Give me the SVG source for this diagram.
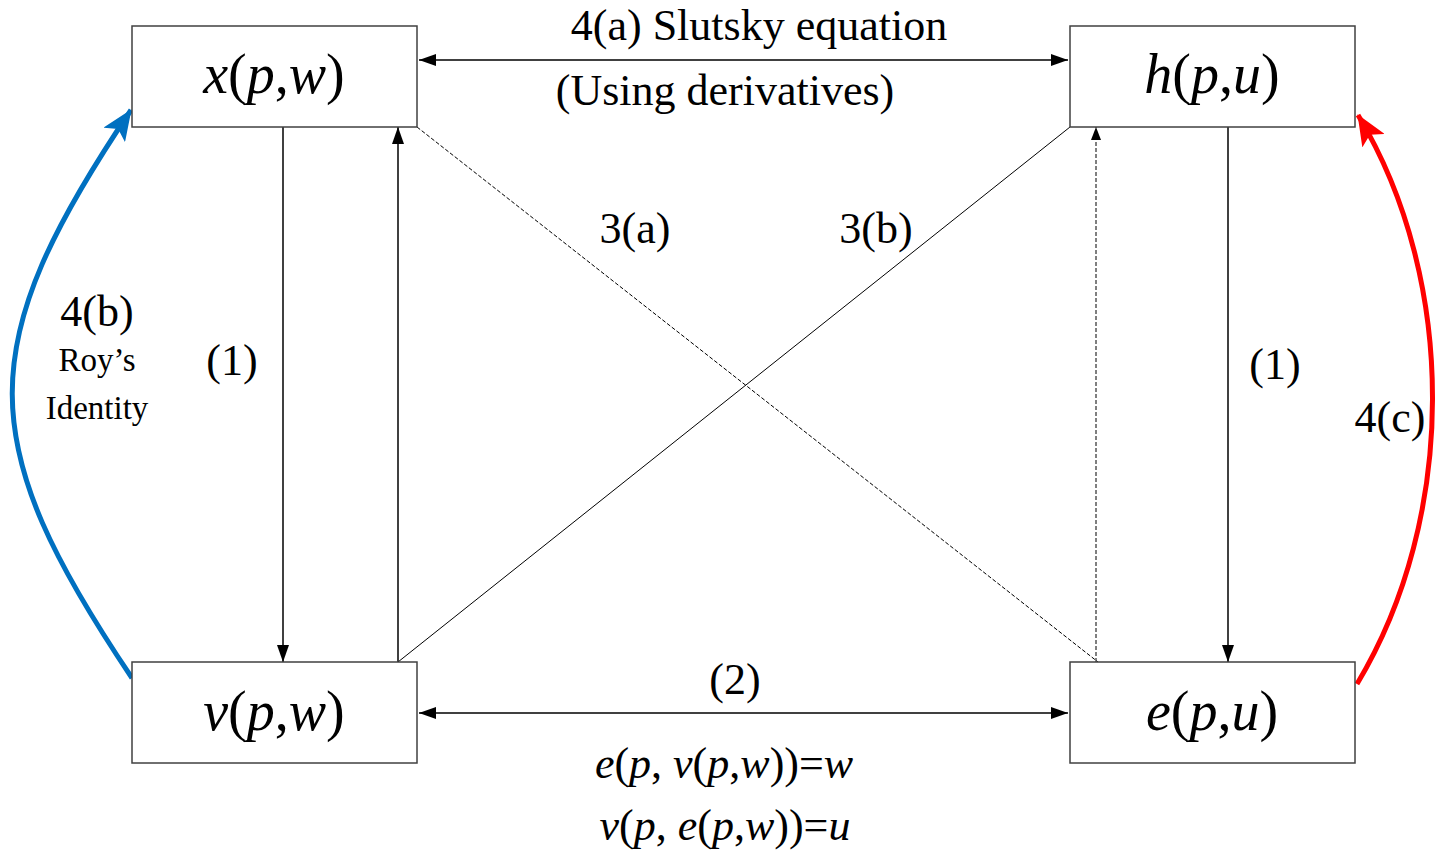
<svg xmlns="http://www.w3.org/2000/svg" width="1440" height="851" viewBox="0 0 1440 851">
<style>
  text { font-family: "Liberation Serif", "Times New Roman", serif; fill: #000; }
  .node rect { fill: #fff; stroke: #404040; stroke-width: 1.5; }
  .lbl { font-size: 56px; text-anchor: middle; }
  .t44 { font-size: 44px; text-anchor: middle; }
  .t33 { font-size: 33px; text-anchor: middle; }
  .i { font-style: italic; }
  .conn { fill: none; stroke: #000; stroke-width: 1.5; }
  .thin { fill: none; stroke: #000; stroke-width: 1; }
  .dash { fill: none; stroke: #000; stroke-width: 1; stroke-dasharray: 4 2; }
</style>
<defs>
  <marker id="ah" markerUnits="userSpaceOnUse" markerWidth="18" markerHeight="12" refX="17" refY="6" orient="auto-start-reverse">
    <path d="M0,0 L17,6 L0,12 Z" fill="#000"/>
  </marker>
  <marker id="ahs" markerUnits="userSpaceOnUse" markerWidth="14" markerHeight="10" refX="13" refY="5" orient="auto">
    <path d="M0,0 L13,5 L0,10 Z" fill="#000"/>
  </marker>
  <marker id="ahb" markerUnits="userSpaceOnUse" markerWidth="32" markerHeight="26" refX="30" refY="13" orient="auto">
    <path d="M0,0 L31,13 L0,26 L7,13 Z" fill="#0070C0"/>
  </marker>
  <marker id="ahr" markerUnits="userSpaceOnUse" markerWidth="32" markerHeight="26" refX="30" refY="13" orient="auto">
    <path d="M0,0 L31,13 L0,26 L7,13 Z" fill="#FF0000"/>
  </marker>
</defs>

<g id="connectors">
  <line class="conn" x1="419" y1="60" x2="1068" y2="60" marker-start="url(#ah)" marker-end="url(#ah)"/>
  <line class="conn" x1="419" y1="713" x2="1068" y2="713" marker-start="url(#ah)" marker-end="url(#ah)"/>
  <line class="conn" x1="283" y1="127" x2="283" y2="662" marker-end="url(#ah)"/>
  <line class="conn" x1="398" y1="662" x2="398" y2="127" marker-end="url(#ah)"/>
  <line class="conn" x1="1228" y1="127" x2="1228" y2="662" marker-end="url(#ah)"/>
  <line class="dash" x1="1096" y1="662" x2="1096" y2="127" marker-end="url(#ahs)"/>
  <line class="dash" x1="417" y1="127" x2="1098" y2="662"/>
  <line class="thin" x1="398" y1="662" x2="1070" y2="127"/>
  <path d="M132,678 C-27,442 -28,346 131,110" fill="none" stroke="#0070C0" stroke-width="5" marker-end="url(#ahb)"/>
  <path d="M1357,684 C1457,518 1458,281 1358,115" fill="none" stroke="#FF0000" stroke-width="5" marker-end="url(#ahr)"/>
</g>

<g id="node-x" class="node">
  <rect x="132" y="26" width="285" height="101"/>
  <text class="lbl" x="274" y="93"><tspan class="i">x</tspan>(<tspan class="i">p</tspan>,<tspan class="i">w</tspan>)</text>
</g>
<g id="node-h" class="node">
  <rect x="1070" y="26" width="285" height="101"/>
  <text class="lbl" x="1212" y="93"><tspan class="i">h</tspan>(<tspan class="i">p</tspan>,<tspan class="i">u</tspan>)</text>
</g>
<g id="node-v" class="node">
  <rect x="132" y="662" width="285" height="101"/>
  <text class="lbl" x="274" y="730"><tspan class="i">v</tspan>(<tspan class="i">p</tspan>,<tspan class="i">w</tspan>)</text>
</g>
<g id="node-e" class="node">
  <rect x="1070" y="662" width="285" height="101"/>
  <text class="lbl" x="1212" y="730"><tspan class="i">e</tspan>(<tspan class="i">p</tspan>,<tspan class="i">u</tspan>)</text>
</g>

<g id="labels">
  <text class="t44" x="759" y="40">4(a) Slutsky equation</text>
  <text class="t44" x="725" y="105">(Using derivatives)</text>
  <text class="t44" x="635" y="243">3(a)</text>
  <text class="t44" x="876" y="243">3(b)</text>
  <text class="t44" x="97" y="326">4(b)</text>
  <text class="t33" x="97" y="371">Roy’s</text>
  <text class="t33" x="97" y="419">Identity</text>
  <text class="t44" x="232" y="375">(1)</text>
  <text class="t44" x="1275" y="379">(1)</text>
  <text class="t44" x="1390" y="432">4(c)</text>
  <text class="t44" x="735" y="694">(2)</text>
  <text class="t44" x="724" y="778"><tspan class="i">e</tspan>(<tspan class="i">p</tspan>, <tspan class="i">v</tspan>(<tspan class="i">p</tspan>,<tspan class="i">w</tspan>))=<tspan class="i">w</tspan></text>
  <text class="t44" x="725" y="840"><tspan class="i">v</tspan>(<tspan class="i">p</tspan>, <tspan class="i">e</tspan>(<tspan class="i">p</tspan>,<tspan class="i">w</tspan>))=<tspan class="i">u</tspan></text>
</g>
</svg>
